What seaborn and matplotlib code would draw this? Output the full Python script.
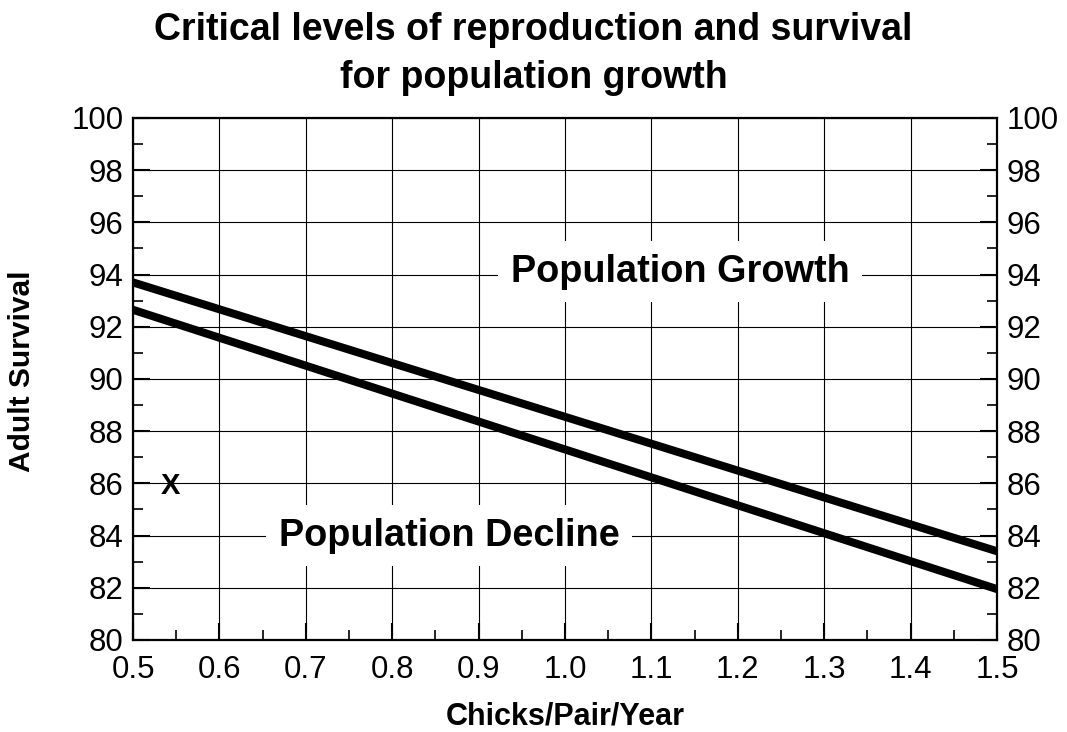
import numpy as np
import pandas as pd
import matplotlib
matplotlib.use("Agg")
import matplotlib.pyplot as plt
from matplotlib.ticker import MultipleLocator
import seaborn as sns

# data
chicks = [0.5, 1.5]
growth_threshold = [93.7, 83.4]
decline_threshold = [92.65, 81.95]
x_mark = (0.543, 85.9)

df = pd.DataFrame({
    "chicks": chicks * 2,
    "survival": growth_threshold + decline_threshold,
    "line": ["upper"] * 2 + ["lower"] * 2,
})

sns.set_theme(style="white")
plt.rcParams["font.family"] = ["Liberation Sans", "DejaVu Sans"]
plt.rcParams["text.color"] = "black"
plt.rcParams["axes.labelcolor"] = "black"

fig = plt.figure(figsize=(10.67, 7.32), dpi=100)
ax = fig.add_axes([0.1247, 0.1257, 0.8097, 0.7131])

sns.lineplot(data=df, x="chicks", y="survival", units="line", estimator=None,
             color="black", lw=5.8, solid_capstyle="round", ax=ax, zorder=3)

ax.set_xlim(0.5, 1.5)
ax.set_ylim(80, 100)
ax.xaxis.set_major_locator(MultipleLocator(0.1))
ax.xaxis.set_minor_locator(MultipleLocator(0.05))
ax.yaxis.set_major_locator(MultipleLocator(2))
ax.yaxis.set_minor_locator(MultipleLocator(1))
ax.xaxis.set_major_formatter(plt.FuncFormatter(lambda v, p: f"{v:.1f}"))
ax.grid(True, which="major", color="black", lw=0.8)
ax.tick_params(which="both", direction="in", left=True, right=True, bottom=True,
               top=False, labelright=True, labelsize=22.5, colors="black")
ax.tick_params(which="major", length=12, width=1.5, pad=7)
ax.tick_params(axis="x", which="major", pad=11)
ax.tick_params(which="minor", length=7, width=1.2)
for s in ax.spines.values():
    s.set_color("black")
    s.set_linewidth(1.6)

ax.set_xlabel("Chicks/Pair/Year", fontsize=22, fontweight="bold")
ax.set_ylabel("Adult Survival", fontsize=21.5, fontweight="bold")
ax.xaxis.set_label_coords(0.5, -0.146)
ax.xaxis.label.set_va("center")
ax.yaxis.set_label_coords(-0.128, 0.515)
ax.yaxis.label.set_va("center")
fig.suptitle("Critical levels of reproduction and survival\nfor population growth",
             fontsize=27, fontweight="bold", y=0.983, linespacing=1.4)

box = dict(facecolor="white", edgecolor="none", pad=9)
ax.text(1.133, 94.1, "Population Growth", fontsize=27.3, fontweight="bold",
        ha="center", va="center", bbox=box, zorder=4)
ax.text(0.866, 84.0, "Population Decline", fontsize=27.3, fontweight="bold",
        ha="center", va="center", bbox=box, zorder=4)
ax.text(x_mark[0], x_mark[1], "X", fontsize=21, fontweight="bold",
        ha="center", va="center", zorder=4)

fig.savefig("out.png", dpi=100)
